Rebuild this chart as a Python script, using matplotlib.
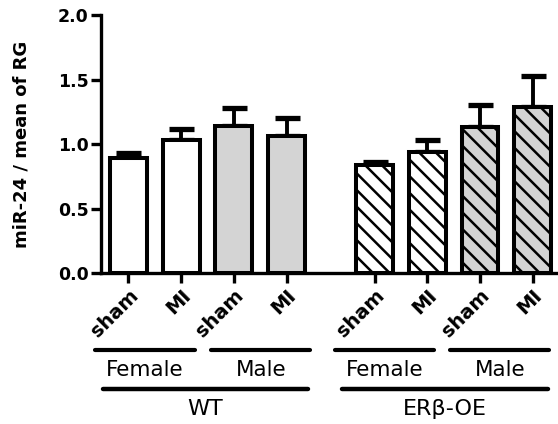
import matplotlib
matplotlib.use("Agg")
import matplotlib.pyplot as plt
from matplotlib.lines import Line2D
from matplotlib.transforms import blended_transform_factory, ScaledTranslation
import numpy as np

# ---- data ----
tick_labels = ["sham", "MI", "sham", "MI", "sham", "MI", "sham", "MI"]
means = [0.89, 1.03, 1.14, 1.06, 0.84, 0.94, 1.13, 1.29]
errs = [0.04, 0.09, 0.14, 0.14, 0.025, 0.09, 0.17, 0.24]
fills = ["white", "white", "#d4d4d4", "#d4d4d4", "white", "white", "#d4d4d4", "#d4d4d4"]
BS = chr(92)
hatches = [None, None, None, None, BS * 3, BS * 3, BS * 3, BS * 3]
sex_groups = ["Female", "Male", "Female", "Male"]
geno_groups = ["WT", "ER\u03b2-OE"]

# layout: spans of the group underlines (data x units)
sex_spans = [(-0.64, 1.26), (1.57, 3.45), (3.92, 5.80), (6.11, 7.98)]
geno_spans = [(-0.49, 3.41), (4.05, 7.96)]

DPI = 150
def P(v):
    return v * 100.0 / DPI

plt.rcParams['font.family'] = ['DejaVu Sans']
plt.rcParams['hatch.linewidth'] = P(1.8)

fig = plt.figure(figsize=(5.58 * 100 / DPI, 4.24 * 100 / DPI), dpi=DPI)
ax = fig.add_axes([0.181, 0.3554, 0.819, 0.6092])

x = np.array([0, 1, 2, 3, 4.67, 5.67, 6.67, 7.67])
bars = ax.bar(x, means, width=0.7, color=fills, edgecolor="black", linewidth=P(2.9), zorder=2)
for b, h in zip(bars, hatches):
    if h:
        b.set_hatch(h)
ax.errorbar(x, means, yerr=[np.zeros(len(errs)), errs], fmt="none", ecolor="black",
            elinewidth=P(2.8), capsize=P(9), capthick=P(3.8), zorder=1)

ax.set_xlim(-0.52, 8.15)
ax.set_ylim(0, 2.0)
ax.set_yticks([0, 0.5, 1.0, 1.5, 2.0])
ax.set_yticklabels(["0.0", "0.5", "1.0", "1.5", "2.0"], fontsize=P(12.5), fontweight="bold")
ax.set_xticks(x)
ax.set_xticklabels(tick_labels, rotation=45, ha="right", rotation_mode="anchor",
                   fontsize=P(14), fontweight="bold")
off = ScaledTranslation(4 / DPI, -3 / DPI, fig.dpi_scale_trans)
for lab in ax.get_xticklabels():
    lab.set_transform(lab.get_transform() + off)
for s in ["top", "right"]:
    ax.spines[s].set_visible(False)
for s in ["left", "bottom"]:
    ax.spines[s].set_linewidth(P(2.4))
ax.tick_params(axis="both", direction="out", length=P(7), width=P(2.4), pad=P(2))
ax.set_ylabel("miR-24 / mean of RG", fontsize=P(13), fontweight="bold")
ax.yaxis.set_label_coords(-0.155, 0.5)

tr = blended_transform_factory(ax.transData, fig.transFigure)
for (x0, x1), lab in zip(sex_spans, sex_groups):
    fig.add_artist(Line2D([x0, x1], [0.1745, 0.1745], transform=tr, color="black",
                          linewidth=P(3.0), solid_capstyle="round"))
    ax.text((x0 + x1) / 2, 0.128, lab, transform=tr, ha="center", va="center", fontsize=P(15.5))
for (x0, x1), lab in zip(geno_spans, geno_groups):
    fig.add_artist(Line2D([x0, x1], [0.0837, 0.0837], transform=tr, color="black",
                          linewidth=P(3.2), solid_capstyle="round"))
    ax.text((x0 + x1) / 2, 0.035, lab, transform=tr, ha="center", va="center", fontsize=P(16))

fig.savefig("out.png", dpi=DPI)
